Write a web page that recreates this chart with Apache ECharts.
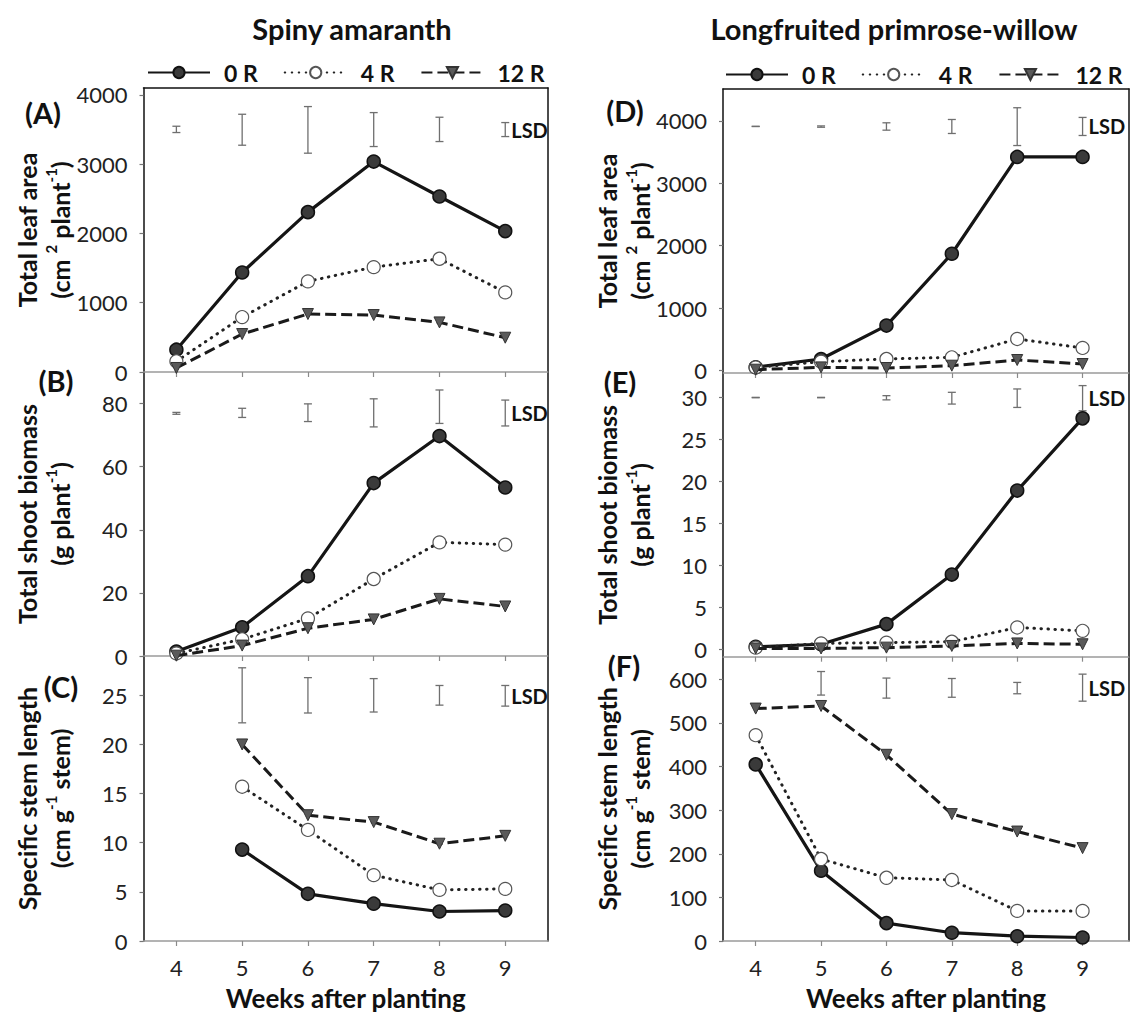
<!DOCTYPE html>
<html><head><meta charset="utf-8">
<script src="https://cdn.jsdelivr.net/npm/echarts@6/dist/echarts.min.js"></script>
<style>html,body{margin:0;padding:0;background:#fff}#c{width:1130px;height:1015px}</style>
</head><body><div id="c"></div>
<script>
// ---------- data ----------
const weeks = [4, 5, 6, 7, 8, 9];
const seriesNames = ['0 R', '4 R', '12 R'];

// Spiny amaranth
const A_0R = [322, 1437, 2308, 3038, 2534, 2034];
const A_4R = [154, 793, 1308, 1514, 1635, 1149];
const A_12R = [58, 548, 837, 822, 716, 495];
const A_lsdLow = [3457, 3274, 3159, 3255, 3327, 3399];
const A_lsdHigh = [3548, 3721, 3832, 3745, 3678, 3601];

const B_0R = [1.4, 9.1, 25.3, 54.8, 69.7, 53.4];
const B_4R = [0.8, 5.3, 11.9, 24.4, 36.0, 35.3];
const B_12R = [0.1, 3.3, 8.8, 11.6, 18.1, 15.7];
const B_lsdLow = [76.6, 75.6, 74.3, 72.6, 73.7, 72.9];
const B_lsdHigh = [77.2, 78.5, 79.9, 81.5, 84.3, 81.1];

const C_0R = [null, 9.3, 4.8, 3.8, 3.0, 3.1];
const C_4R = [null, 15.7, 11.3, 6.7, 5.2, 5.3];
const C_12R = [null, 20.0, 12.8, 12.1, 9.9, 10.7];
const C_lsdLow = [null, 22.2, 23.2, 23.3, 24.0, 23.9];
const C_lsdHigh = [null, 27.8, 26.8, 26.7, 26.0, 26.0];

// Longfruited primrose-willow
const D_0R = [55, 187, 722, 1872, 3422, 3422];
const D_4R = [53, 144, 187, 214, 508, 364];
const D_12R = [16, 53, 43, 80, 171, 107];
const D_lsdLow = [3908, 3897, 3850, 3797, 3604, 3765];
const D_lsdHigh = [3912, 3918, 3968, 4021, 4209, 4054];

const E_0R = [0.3, 0.6, 3.0, 8.9, 18.9, 27.5];
const E_4R = [0.2, 0.7, 0.8, 0.9, 2.6, 2.2];
const E_12R = [0.1, 0.1, 0.2, 0.4, 0.7, 0.6];
const E_lsdLow = [29.95, 29.95, 29.7, 29.2, 28.8, 28.4];
const E_lsdHigh = [30.0, 30.0, 30.2, 30.6, 31.0, 31.4];

const F_0R = [405, 161, 41, 19, 11, 8];
const F_4R = [472, 188, 145, 140, 69, 69];
const F_12R = [533, 539, 427, 291, 251, 213];
const F_lsdLow = [null, 564, 557, 559, 567, 550];
const F_lsdHigh = [null, 618, 603, 602, 593, 612];

// y tick labels
const A_ticks = [0, 1000, 2000, 3000, 4000];
const B_ticks = [0, 20, 40, 60, 80];
const C_ticks = [0, 5, 10, 15, 20, 25];
const D_ticks = [0, 1000, 2000, 3000, 4000];
const E_ticks = [0, 5, 10, 15, 20, 25, 30];
const F_ticks = [0, 100, 200, 300, 400, 500, 600];

const titles = ['Spiny amaranth', 'Longfruited primrose-willow'];
const panelLabels = ['(A)', '(B)', '(C)', '(D)', '(E)', '(F)'];
const xTitle = 'Weeks after planting';
const yNames = [
  '{t|Total leaf area}\n{t|(cm }{s|2}{t| plant}{s|-1}{t|)}',
  '{t|Total shoot biomass}\n{t|(g plant}{s|-1}{t|)}',
  '{t|Specific stem length}\n{t|(cm g}{s|-1}{t| stem)}'
];

// ---------- layout ----------
const FONT = 'Lato';
const panels = [
  {grid: {left: 143.5, top: 88, width: 404.5, height: 284}, xmax: 9.65, ymin: 0, ymax: 4100, ticks: A_ticks, d: [A_0R, A_4R, A_12R], lo: A_lsdLow, hi: A_lsdHigh, name: yNames[0], topLine: true, bottom: false},
  {grid: {left: 143.5, top: 372, width: 404.5, height: 284}, xmax: 9.65, ymin: 0, ymax: 90, ticks: B_ticks, d: [B_0R, B_4R, B_12R], lo: B_lsdLow, hi: B_lsdHigh, name: yNames[1], topLine: false, bottom: false},
  {grid: {left: 143.5, top: 656, width: 404.5, height: 285}, xmax: 9.65, ymin: 0, ymax: 29, ticks: C_ticks, d: [C_0R, C_4R, C_12R], lo: C_lsdLow, hi: C_lsdHigh, name: yNames[2], topLine: false, bottom: true},
  {grid: {left: 723, top: 89, width: 406, height: 284}, xmax: 9.71, ymin: -37, ymax: 4509, ticks: D_ticks, d: [D_0R, D_4R, D_12R], lo: D_lsdLow, hi: D_lsdHigh, name: yNames[0], topLine: true, bottom: false},
  {grid: {left: 723, top: 373, width: 406, height: 283.7}, xmax: 9.71, ymin: -0.88, ymax: 32.9, ticks: E_ticks, d: [E_0R, E_4R, E_12R], lo: E_lsdLow, hi: E_lsdHigh, name: yNames[1], topLine: false, bottom: false},
  {grid: {left: 723, top: 656.7, width: 406, height: 284.3}, xmax: 9.71, ymin: 0, ymax: 652, ticks: F_ticks, d: [F_0R, F_4R, F_12R], lo: F_lsdLow, hi: F_lsdHigh, name: yNames[2], topLine: false, bottom: true}
];

const seriesStyles = [
  {symbol: 'circle', symbolSize: 13, symbolRotate: 0, itemStyle: {color: '#3a3a3a', borderColor: '#111', borderWidth: 1.5}, lineStyle: {color: '#151515', width: 3.2, type: 'solid'}},
  {symbol: 'circle', symbolSize: 13, symbolRotate: 0, itemStyle: {color: '#ffffff', borderColor: '#555', borderWidth: 1.2}, lineStyle: {color: '#222', width: 3, type: [0.5, 6.5], cap: 'round'}},
  {symbol: 'triangle', symbolSize: 11, symbolRotate: 180, itemStyle: {color: '#5a5a5a', borderColor: '#333', borderWidth: 1}, lineStyle: {color: '#1a1a1a', width: 3, type: [11, 5]}}
];

function lsdRender(params, api) {
  const x = api.value(0), lo = api.value(1), hi = api.value(2);
  const p1 = api.coord([x, hi]), p2 = api.coord([x, lo]);
  const w = 4;
  const st = {stroke: '#6f6f6f', lineWidth: 1.3, fill: null};
  const children = [
    {type: 'line', shape: {x1: p1[0], y1: p1[1], x2: p2[0], y2: p2[1]}, style: st},
    {type: 'line', shape: {x1: p1[0] - w, y1: p1[1], x2: p1[0] + w, y2: p1[1]}, style: st},
    {type: 'line', shape: {x1: p2[0] - w, y1: p2[1], x2: p2[0] + w, y2: p2[1]}, style: st}
  ];
  if (x === 9) {
    children.push({type: 'text', x: p1[0] + 6, y: (p1[1] + p2[1]) / 2,
      style: {text: 'LSD', fill: '#111', font: 'bold 20px ' + FONT, align: 'left', verticalAlign: 'middle', textAlign: 'left', textVerticalAlign: 'middle'}});
  }
  return {type: 'group', children: children};
}

const plain = v => String(v);
const grid = [], xAxis = [], yAxis = [], series = [];
panels.forEach((p, i) => {
  grid.push(Object.assign({containLabel: false, show: false}, p.grid));
  const xb = xAxis.length;
  xAxis.push({
    type: 'value', gridIndex: i, min: 3.5, max: p.xmax, position: 'bottom',
    axisLine: {show: true, onZero: false, lineStyle: {color: '#9a9a9a', width: 1.5}},
    axisTick: {show: true, customValues: weeks, length: 5, lineStyle: {color: '#8a8a8a', width: 1.2}},
    axisLabel: {show: p.bottom, customValues: weeks, formatter: plain, margin: 15, fontSize: 22, color: '#222', fontFamily: FONT},
    splitLine: {show: false},
    name: p.bottom ? xTitle : '', nameLocation: 'middle', nameGap: 44,
    nameTextStyle: {fontSize: 26, fontWeight: 'bold', color: '#111', fontFamily: FONT}
  });
  if (p.topLine) {
    xAxis.push({type: 'value', gridIndex: i, min: 3.5, max: p.xmax, position: 'top',
      axisLine: {show: true, onZero: false, lineStyle: {color: '#111', width: 1.5}},
      axisTick: {show: false}, axisLabel: {show: false}, splitLine: {show: false}});
  }
  const yl = yAxis.length;
  yAxis.push({
    type: 'value', gridIndex: i, min: p.ymin, max: p.ymax, position: 'left',
    axisLine: {show: true, onZero: false, lineStyle: {color: '#111', width: 1.5}},
    axisTick: {show: true, customValues: p.ticks, length: 4, lineStyle: {color: '#777', width: 1.2}},
    axisLabel: {customValues: p.ticks, formatter: plain, margin: 16, fontSize: 22, color: '#222', fontFamily: FONT},
    splitLine: {show: false},
    name: p.name, nameLocation: 'middle', nameGap: 67, nameRotate: 90,
    nameTextStyle: {
      align: 'center',
      rich: {
        t: {fontFamily: FONT, fontWeight: 'bold', fontSize: 25, color: '#111', lineHeight: 33},
        s: {fontFamily: FONT, fontWeight: 'bold', fontSize: 15, color: '#111', lineHeight: 16, verticalAlign: 'top'}
      }
    }
  });
  yAxis.push({type: 'value', gridIndex: i, min: p.ymin, max: p.ymax, position: 'right',
    axisLine: {show: true, onZero: false, lineStyle: {color: '#111', width: 1.5}},
    axisTick: {show: false}, axisLabel: {show: false}, splitLine: {show: false}});

  p.d.forEach((arr, k) => {
    const s = seriesStyles[k];
    series.push({
      type: 'line', name: seriesNames[k], xAxisIndex: xb, yAxisIndex: yl,
      data: weeks.map((w, j) => arr[j] == null ? null : [w, arr[j]]).filter(v => v),
      symbol: s.symbol, symbolSize: s.symbolSize, symbolRotate: s.symbolRotate,
      itemStyle: s.itemStyle, lineStyle: s.lineStyle, z: 3 + k,
      showSymbol: true, animation: false, emphasis: {disabled: true}
    });
  });
  series.push({
    type: 'custom', name: 'LSD', xAxisIndex: xb, yAxisIndex: yl, renderItem: lsdRender,
    data: weeks.map((w, j) => p.lo[j] == null ? null : [w, p.lo[j], p.hi[j]]).filter(v => v),
    animation: false, silent: true, z: 2
  });
});

const legendBase = {
  data: seriesNames, orient: 'horizontal', itemWidth: 62, itemHeight: 14, itemGap: 26,
  textStyle: {fontFamily: FONT, fontWeight: 'bold', fontSize: 23, color: '#111', padding: [0, 0, 0, 9]},
  selectedMode: false
};

const labelPos = [[43, 112], [56, 380], [61, 686], [625, 110], [620, 381], [624, 665]];
const graphic = panelLabels.map((t, i) => ({
  type: 'text', x: labelPos[i][0], y: labelPos[i][1],
  style: {text: t, font: 'bold 29px ' + FONT, fill: '#111', align: 'center', verticalAlign: 'middle', textAlign: 'center', textVerticalAlign: 'middle'}
}));

const option = {
  backgroundColor: '#fff',
  animation: false,
  title: [
    {text: titles[0], left: 347, top: 9, textAlign: 'center', textStyle: {fontFamily: FONT, fontWeight: 'bold', fontSize: 29, color: '#111'}},
    {text: titles[1], left: 889, top: 9, textAlign: 'center', textStyle: {fontFamily: FONT, fontWeight: 'bold', fontSize: 29, color: '#111'}}
  ],
  legend: [
    Object.assign({left: 142, top: 56}, legendBase),
    Object.assign({left: 720, top: 58}, legendBase)
  ],
  grid: grid, xAxis: xAxis, yAxis: yAxis, series: series, graphic: graphic
};

const chart = echarts.init(document.getElementById('c'), null, {renderer: 'svg', width: 1130, height: 1015});
chart.setOption(option);
</script>
</body></html>
